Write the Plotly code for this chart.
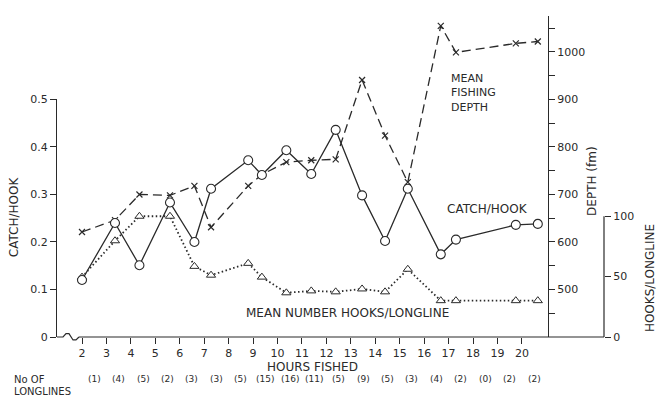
import plotly.graph_objects as go

# ---------------- data ----------------
hours = [2.0, 3.35, 4.35, 5.6, 6.6, 7.28, 8.8, 9.36, 10.36, 11.38,
         12.38, 13.46, 14.4, 15.33, 16.68, 17.3, 19.75, 20.65]
catch_per_hook = [0.120, 0.240, 0.151, 0.283, 0.200, 0.312, 0.372, 0.341, 0.393,
                  0.343, 0.436, 0.298, 0.202, 0.312, 0.174, 0.205, 0.236, 0.238]
mean_depth_fm = [621, 646, 700, 698, 718, 631, 718, 742, 768, 772,
                 774, 941, 824, 726, 1055, 999, 1018, 1022]
hooks_per_longline = [49.6, 79.7, 100, 100, 58.5, 51.2, 61, 49.6, 36.6, 38.2,
                      37.4, 39.8, 37.4, 56.1, 30.1, 30.1, 30.1, 30.1]

hour_ticks = list(range(2, 21))
longline_counts = [1, 4, 5, 2, 3, 3, 5, 15, 16, 11, 5, 9, 5, 3, 4, 2, 0, 2, 2]
count_positions = [h + 0.5 for h in hour_ticks]

catch_ticks = [0, 0.1, 0.2, 0.3, 0.4, 0.5]
catch_ticktext = ["0", "0.1", "0.2", "0.3", "0.4", "0.5"]
depth_ticks = [450, 500, 550, 600, 650, 700, 750, 800, 850, 900, 950, 1000, 1050]
depth_ticktext = ["", "500", "", "600", "", "700", "", "800", "", "900", "", "1000", ""]
hooks_ticks = [0, 50, 100]

# ---------------- geometry ----------------
W, H = 661, 410
L, R, T, B = 57, 604, 10, 337
PW, PH = R - L, B - T
X_PX_PER_HOUR = 24.44
X_AT_2 = 82
x_range = [2 - (X_AT_2 - L) / X_PX_PER_HOUR, 2 + (R - X_AT_2) / X_PX_PER_HOUR]
CATCH_TOP_PX = 95
DEPTH_PX_PER_FM = 0.484
HOOK_PX = 1.23
INK = "#2a2a2a"
FONT = "DejaVu Sans"


def px_x(p):
    return (p - L) / PW


def px_y(p):
    return (B - p) / PH


fig = go.Figure()

# hooks per longline (dotted, triangles) on y
fig.add_trace(go.Scatter(
    x=hours, y=hooks_per_longline, xaxis="x", yaxis="y", mode="lines+markers",
    line=dict(color=INK, width=1.8, dash="1.5px,2.5px"),
    marker=dict(symbol="triangle-up", size=8, color="white",
                line=dict(color=INK, width=1)),
    cliponaxis=False, showlegend=False, hoverinfo="skip"))

# mean fishing depth (dashed, x) on y2
fig.add_trace(go.Scatter(
    x=hours, y=mean_depth_fm, xaxis="x", yaxis="y2", mode="lines+markers",
    line=dict(color=INK, width=1.3, dash="9px,5px"),
    marker=dict(symbol="x-thin", size=6, line=dict(color=INK, width=1.2)),
    cliponaxis=False, showlegend=False, hoverinfo="skip"))

# catch per hook (solid, circles) on y3
fig.add_trace(go.Scatter(
    x=hours, y=catch_per_hook, xaxis="x", yaxis="y3", mode="lines+markers",
    line=dict(color=INK, width=1.3),
    marker=dict(symbol="circle", size=9, color="white",
                line=dict(color=INK, width=1.1)),
    cliponaxis=False, showlegend=False, hoverinfo="skip"))

tickfont = dict(family=FONT, size=11, color=INK)

fig.update_layout(
    width=W, height=H,
    margin=dict(l=L, r=W - R, t=T, b=H - B),
    paper_bgcolor="white", plot_bgcolor="rgba(0,0,0,0)",
    xaxis=dict(domain=[0, 1], range=x_range, anchor="y",
               tickmode="array", tickvals=hour_ticks,
               ticktext=[str(h) for h in hour_ticks],
               ticks="outside", ticklen=6, tickwidth=1, tickcolor=INK,
               showline=False, showgrid=False, zeroline=False,
               tickfont=tickfont),
    yaxis=dict(domain=[0, 1], range=[0, PH / HOOK_PX], anchor="free",
               position=1.0, side="right",
               tickmode="array", tickvals=hooks_ticks,
               ticks="outside", ticklen=6, tickwidth=1, tickcolor=INK,
               showline=False, showgrid=False, zeroline=False,
               tickfont=tickfont),
    yaxis2=dict(domain=[0, 1], range=[400, 400 + PH / DEPTH_PX_PER_FM],
                anchor="free", position=px_x(548), side="right",
                tickmode="array", tickvals=depth_ticks, ticktext=depth_ticktext,
                ticks="outside", ticklen=6, tickwidth=1, tickcolor=INK,
                showline=True, linecolor=INK, linewidth=1.2,
                showgrid=False, zeroline=False, tickfont=tickfont),
    yaxis3=dict(domain=[0, (B - CATCH_TOP_PX) / PH], range=[0, 0.5],
                anchor="x", side="left",
                tickmode="array", tickvals=catch_ticks, ticktext=catch_ticktext,
                ticks="outside", ticklen=6, tickwidth=1, tickcolor=INK,
                showline=True, linecolor=INK, linewidth=1.2,
                showgrid=False, zeroline=False, tickfont=tickfont),
)

# baseline with axis break near the origin, and hooks axis line
brk = [(57, 337), (63, 337), (66, 333.5), (69, 333.5), (73, 340), (76, 340), (79, 337)]
path = "M " + " L ".join(f"{px_x(a):.4f},{px_y(b):.4f}" for a, b in brk)
shapes = [
    dict(type="path", xref="paper", yref="paper", path=path,
         line=dict(color=INK, width=1.2)),
    dict(type="line", xref="paper", yref="paper", x0=px_x(79), x1=1, y0=0, y1=0,
         line=dict(color=INK, width=1.2)),
    dict(type="line", xref="paper", yref="y", x0=1, x1=1, y0=0, y1=100,
         line=dict(color=INK, width=1.2)),
]
fig.update_layout(shapes=shapes)

ann = []
lab = dict(family=FONT, size=12, color=INK)


def add(text, xp, yp, xanchor="center", angle=0, font=lab, xref="paper", xval=None,
        align="center"):
    ann.append(dict(text=text, xref=xref, yref="paper",
                    x=px_x(xp) if xval is None else xval, y=px_y(yp),
                    xanchor=xanchor, yanchor="middle", textangle=angle, align=align,
                    showarrow=False, font=font, borderpad=0))


add("CATCH/HOOK", 14, 215, angle=-90)
add("DEPTH (fm)", 592, 178, angle=-90)
add("HOOKS/LONGLINE", 650, 277, angle=-90)
add("HOURS FISHED", 312, 368)
add("MEAN<br>FISHING<br>DEPTH", 450, 88, xanchor="left", align="left",
    font=dict(family=FONT, size=11, color=INK))
add("CATCH/HOOK", 446, 207, xanchor="left")
add("MEAN NUMBER HOOKS/LONGLINE", 245, 313, xanchor="left")
small = dict(family=FONT, size=10, color=INK)
add("No OF", 13, 380, xanchor="left", font=small)
add("LONGLINES", 13, 393, xanchor="left", font=small)
for xp, c in zip(count_positions, longline_counts):
    add(f"({c})", 0, 380, font=dict(family=FONT, size=9, color=INK), xref="x", xval=xp)
fig.update_layout(annotations=ann)

fig.write_html("out.html", config={"displayModeBar": False},
               post_script="document.body.style.margin='0';")
